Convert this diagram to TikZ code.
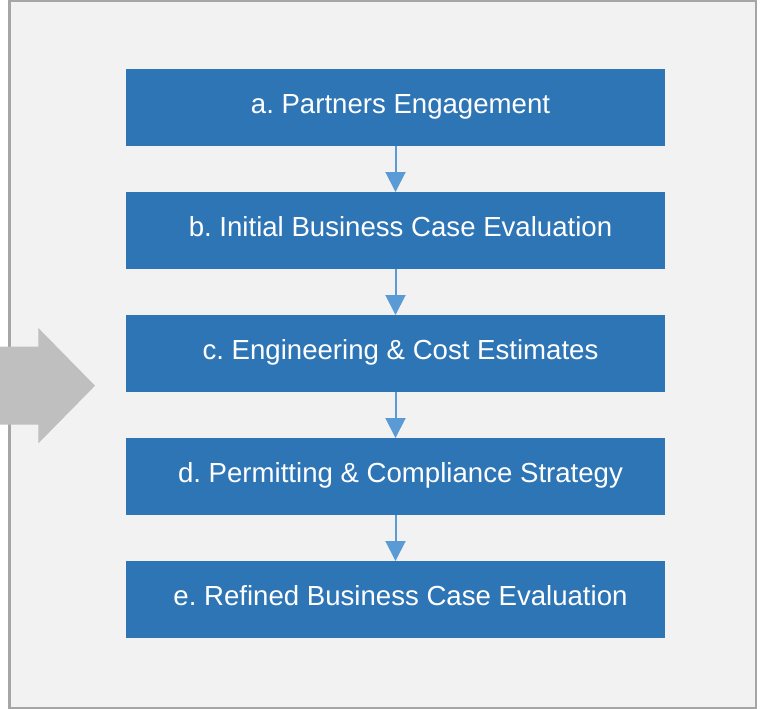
\documentclass[tikz,border=0pt]{standalone}
\usepackage{fontspec}
\setmainfont{Liberation Sans}
\frenchspacing
\usetikzlibrary{arrows.meta, positioning}
\definecolor{myblue}{RGB}{46,117,182}
\definecolor{mylightblue}{RGB}{91,155,213}
\definecolor{mybg}{RGB}{242,242,242}
\definecolor{myframe}{RGB}{166,166,166}
\definecolor{myarrow}{RGB}{191,191,191}
\tikzset{
  stage/.style={rectangle, fill=myblue, text=white,
    minimum width=539pt, minimum height=77pt, inner sep=0pt, outer sep=0pt,
    font=\fontsize{27.6}{33}\selectfont, text height=20pt, text depth=8.4pt},
  link/.style={-{Triangle[width=20pt, length=20pt]}, line width=2pt, color=mylightblue}
}

\begin{document}
\begin{tikzpicture}[x=1pt, y=-1pt]
  \useasboundingbox (0,0) rectangle (768,709);
  % Frame
  \draw[fill=mybg, draw=myframe, line width=2.5pt] (9.5,1) rectangle (756,708);

  % Input arrow
  \fill[myarrow] (0,346.7) -- (38.3,346.7) -- (38.3,328) -- (95,385.7)
    -- (38.3,443.4) -- (38.3,424.7) -- (0,424.7) -- cycle;

  % Stages
  \node[stage] (partners) at (395.5,107.5) {\kern10pt a. Partners Engagement};
  \node[stage, below=46pt of partners] (initial) {\kern10pt b. Initial Business Case Evaluation};
  \node[stage, below=46pt of initial] (estimates) {\kern10pt c. Engineering \& Cost Estimates};
  \node[stage, below=46pt of estimates] (permitting) {\kern10pt d. Permitting \& Compliance Strategy};
  \node[stage, below=46pt of permitting] (refined) {\kern10pt e. Refined Business Case Evaluation};

  % Links
  \draw[link] (partners) -- (initial);
  \draw[link] (initial) -- (estimates);
  \draw[link] (estimates) -- (permitting);
  \draw[link] (permitting) -- (refined);
\end{tikzpicture}
\end{document}
